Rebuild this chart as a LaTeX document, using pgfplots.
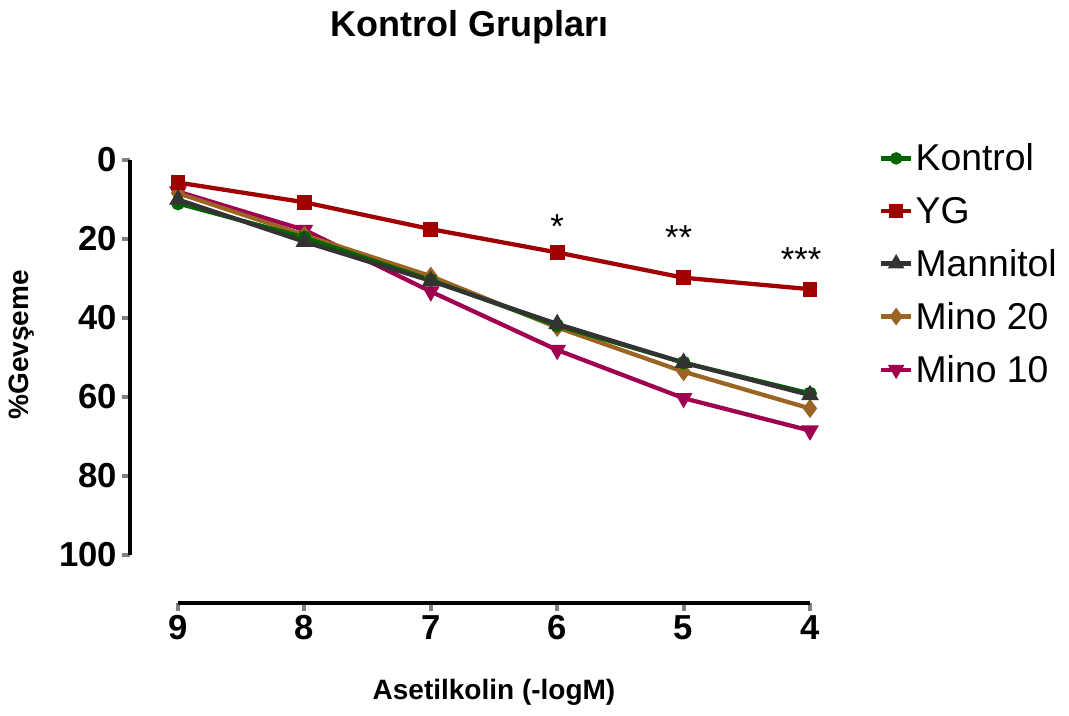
\documentclass[border=0pt]{standalone}
\usepackage{fontspec}
\setmainfont{Liberation Sans}
\usepackage{pgfplots}
\pgfplotsset{compat=1.18}
\definecolor{cKon}{RGB}{0,100,0}
\definecolor{cYG}{RGB}{160,0,0}
\definecolor{cMan}{RGB}{51,51,51}
\definecolor{cM20}{RGB}{155,100,35}
\definecolor{cM10}{RGB}{160,0,80}
\begin{document}
\begin{tikzpicture}
\useasboundingbox (-133.5pt,-120pt) rectangle (668.25pt,416.25pt);
\begin{axis}[
  at={(0,0)}, anchor=south west,
  scale only axis, width=474pt, height=296.25pt,
  x dir=reverse, y dir=reverse,
  xmin=4, xmax=9, ymin=0, ymax=100,
  xtick={4,5,6,7,8,9}, ytick={0,20,40,60,80,100},
  axis x line*=bottom, axis y line*=left,
  axis line style={-, line width=3pt},
  x axis line style={yshift=-36pt},
  y axis line style={xshift=-36pt},
  xtick style={yshift=-36pt, line width=3pt},
  ytick style={xshift=-36pt, line width=3pt},
  tick align=outside, major tick length=6pt,
  xticklabel shift=36pt, yticklabel shift=36pt,
  /pgf/number format/assume math mode=true,
  ticklabel style={font=\bfseries\fontsize{26}{26}\selectfont},
  clip=false,
  title={Kontrol Grupları},
  title style={font=\bfseries\fontsize{27}{27}\selectfont, at={(axis description cs:0.462,1.317)}, anchor=center},
  xlabel={Asetilkolin (-logM)},
  xlabel style={font=\bfseries\fontsize{21}{21}\selectfont, at={(axis description cs:0.5,-0.347)}, anchor=center},
  ylabel={\%Gevşeme},
  ylabel style={font=\bfseries\fontsize{21}{21}\selectfont, at={(axis description cs:-0.247,0.532)}, anchor=center, rotate=0},
  legend style={at={(axis description cs:1.103,1.055)}, anchor=north west, draw=none, fill=none,
    font=\fontsize{28}{28}\selectfont, row sep=14pt, nodes={inner sep=2pt}},
  legend cell align=left,
  legend image code/.code={
    \draw[#1, mark repeat=2, mark phase=2] plot coordinates {(0pt,0pt) (11pt,0pt) (22pt,0pt)};
  },
  every axis plot/.append style={line width=3.2pt},
]
\addlegendimage{cKon, mark=*, mark size=3pt, mark options={solid}}
\addlegendentry{Kontrol}
\addlegendimage{cYG, mark=square*, mark size=3.5pt}
\addlegendentry{YG}
\addlegendimage{cMan, mark=triangle*, mark size=4pt}
\addlegendentry{Mannitol}
\addlegendimage{cM20, mark=diamond*, mark size=4pt}
\addlegendentry{Mino 20}
\addlegendimage{cM10, mark=triangle*, mark size=4pt, mark options={rotate=180}}
\addlegendentry{Mino 10}

\addplot[forget plot, cM10, mark=triangle*, mark size=4.5pt, mark options={rotate=180}] coordinates {
(9,8.0) (8,17.7) (7,33.3) (6,48.1) (5,60.3) (4,68.5)};
\addplot[forget plot, cM20, mark=diamond*, mark size=4.5pt] coordinates {
(9,8.4) (8,19.0) (7,29.4) (6,42.4) (5,53.6) (4,62.9)};
\addplot[forget plot, cYG, mark=square*, mark size=4pt] coordinates {
(9,5.7) (8,10.7) (7,17.5) (6,23.4) (5,29.8) (4,32.7)};
\addplot[forget plot, cKon, mark=*, mark size=3.5pt] coordinates {
(9,11.0) (8,19.6) (7,30.4) (6,41.9) (5,51.3) (4,59.1)};
\addplot[forget plot, cMan, mark=triangle*, mark size=4.5pt] coordinates {
(9,10.0) (8,20.7) (7,30.6) (6,41.5) (5,51.3) (4,59.5)};

\node[font=\fontsize{26}{26}\selectfont] at (axis cs:6,16.8) {*};
\node[font=\fontsize{26}{26}\selectfont] at (axis cs:5.04,19.7) {**};
\node[font=\fontsize{26}{26}\selectfont] at (axis cs:4.07,25.2) {***};
\end{axis}
\end{tikzpicture}
\end{document}
